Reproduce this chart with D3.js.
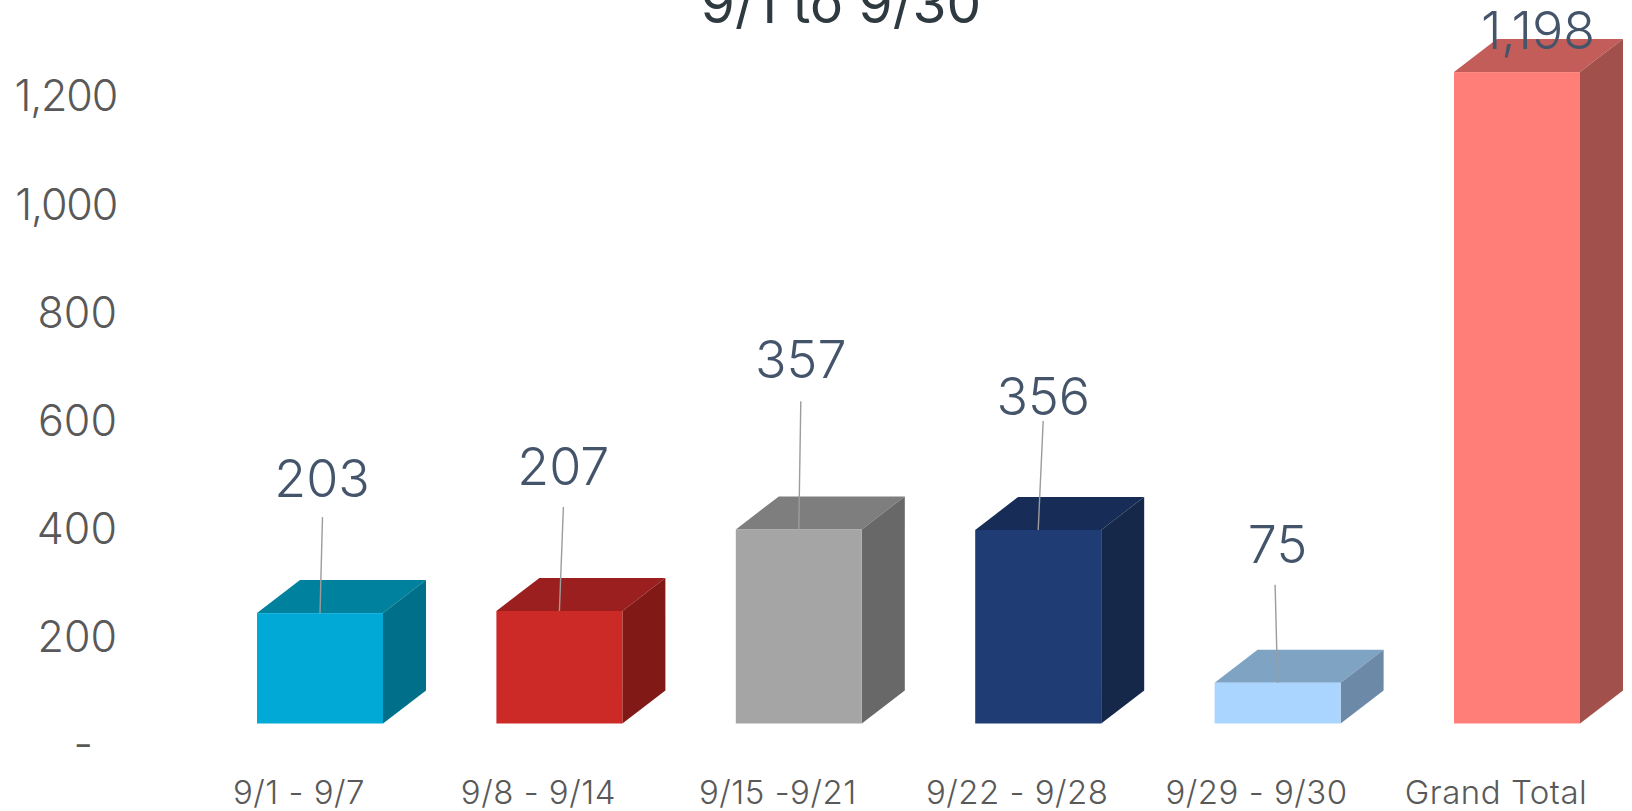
<!DOCTYPE html>
<html>
<head>
<meta charset="utf-8">
<script src="https://cdn.jsdelivr.net/npm/d3@7"></script>
<style>
  html, body { margin: 0; padding: 0; background: #fff; overflow: hidden; }
  svg { display: block; }
  text { font-family: Inter, "Open Sans", sans-serif; font-weight: 300; }
  .domain, .tick line { display: none; }
</style>
</head>
<body>
<svg></svg>
<script>
// данные графика
const titleText = "9/1 to 9/30";
const categories = ["9/1 - 9/7", "9/8 - 9/14", "9/15 -9/21", "9/22 - 9/28", "9/29 - 9/30", "Grand Total"];
const values = [203, 207, 357, 356, 75, 1198];
const yTicks = [0, 200, 400, 600, 800, 1000, 1200];

// цвета граней: передняя, верхняя, боковая
const frontColors = ["#00a9d6", "#cc2a27", "#a5a5a5", "#1f3d74", "#a9d5ff", "#ff7f78"];
const topColors = ["#00829f", "#9a1f1e", "#7e7e7e", "#172d57", "#7fa3c2", "#c35d59"];
const sideColors = ["#006f8a", "#811917", "#686868", "#152849", "#6c8aa8", "#a1504b"];

// сдвиги подписей значений от центра верха столбца
const labelDx = [2, 4, 2, 5, 0, 21];
const labelDy = [135, 145, 170, 134, 138, 42];
// верх выноски относительно столбца (lift 0 - выноски нет)
const leaderDx = [2.5, 4, 2, 5, -2.5, 0];
const leaderLift = [96, 104, 128, 109, 98, 0];

const width = 1632;
const height = 811;
const depthX = 43;
const depthY = 33;
const baseY = 723.5;

const svg = d3.select("svg").attr("width", width).attr("height", height);

const x = d3.scaleBand()
    .domain(categories)
    .range([257, 1580])
    .paddingInner(0.4737)
    .paddingOuter(0);

const y = d3.scaleLinear()
    .domain([0, 1200])
    .range([baseY, baseY - 652.5]);

// ось подписана ниже основания столбцов, как в оригинале
const yAxis = d3.axisLeft(y.copy().range([744.5, 95.5]))
    .tickValues(yTicks)
    .tickSize(0)
    .tickFormat(d => d === 0 ? "-" : d3.format(",")(d));

const axisG = svg.append("g")
    .attr("transform", "translate(117,0)")
    .call(yAxis);
axisG.selectAll("text")
    .attr("x", d => d === 0 ? -24 : 0)
    .attr("dy", d => d === 0 ? "0.32em" : "0.36em")
    .style("font-size", "43px")
    .style("font-family", "Inter, sans-serif")
    .style("letter-spacing", d => d >= 1000 ? "-1.2px" : null)
    .attr("fill", "#595959");

const xAxis = d3.axisBottom(x).tickSize(0);
const xAxisG = svg.append("g")
    .attr("transform", "translate(-21,792)")
    .call(xAxis);
xAxisG.selectAll("text")
    .attr("y", 0)
    .attr("dy", "0.36em")
    .style("font-size", "33px")
    .style("font-family", "Inter, sans-serif")
    .style("letter-spacing", "0.5px")
    .attr("fill", "#595959");

const bars = svg.append("g")
    .selectAll("g")
    .data(d3.range(values.length))
    .join("g");

const barLeft = i => x(categories[i]);
const barMid = i => barLeft(i) + x.bandwidth() / 2;
const barTop = i => y(values[i]);

// верхняя грань
bars.append("path")
    .attr("fill", i => topColors[i])
    .attr("d", i => {
        const x0 = barLeft(i);
        const x1 = x0 + x.bandwidth();
        const t = barTop(i);
        return `M${x0},${t}L${x0 + depthX},${t - depthY}L${x1 + depthX},${t - depthY}L${x1},${t}Z`;
    });

// боковая грань
bars.append("path")
    .attr("fill", i => sideColors[i])
    .attr("d", i => {
        const x1 = barLeft(i) + x.bandwidth();
        const t = barTop(i);
        return `M${x1},${t}L${x1 + depthX},${t - depthY}L${x1 + depthX},${y(0) - depthY}L${x1},${y(0)}Z`;
    });

// передняя грань
bars.append("rect")
    .attr("x", i => barLeft(i))
    .attr("y", i => barTop(i))
    .attr("width", x.bandwidth())
    .attr("height", i => y(0) - barTop(i))
    .attr("fill", i => frontColors[i]);

// выноски
bars.filter(i => leaderLift[i] > 0)
    .append("line")
    .attr("x1", i => barMid(i) + leaderDx[i])
    .attr("y1", i => barTop(i) - leaderLift[i])
    .attr("x2", i => barMid(i))
    .attr("y2", i => barTop(i))
    .attr("stroke", "#9c9c9c")
    .attr("stroke-width", 1.4);

// подписи значений
bars.append("text")
    .attr("x", i => barMid(i) + labelDx[i])
    .attr("y", i => barTop(i) - labelDy[i])
    .attr("dy", "0.36em")
    .attr("text-anchor", "middle")
    .attr("fill", "#44546a")
    .style("font-size", "52px")
    .text(i => d3.format(",")(values[i]));

// заголовок, обрезан верхним краем
svg.append("text")
    .attr("x", 841)
    .attr("y", 23)
    .attr("text-anchor", "middle")
    .attr("fill", "#2f3a40")
    .style("font-size", "55px")
    .style("font-weight", 400)
    .text(titleText);
</script>
</body>
</html>
